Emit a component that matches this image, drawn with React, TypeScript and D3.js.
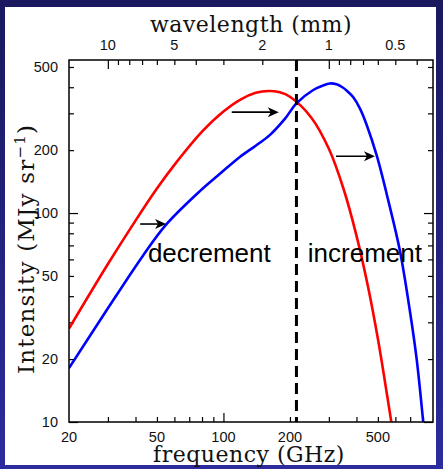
import React, { useRef, useEffect } from 'react';
import * as d3 from 'd3';

const W = 443;
const H = 469;

// undistorted CMB spectrum (red)
const cmbFreq = [20, 30, 40, 50, 60, 80, 100, 120, 140, 160, 180, 200, 250, 300, 350, 400, 450, 500, 550, 575, 600];
const cmbIntensity = [28, 57, 92, 131, 170, 245, 306, 350, 376, 384, 378, 360, 286, 203, 130, 78, 45, 25, 13.5, 10, 7.3];

// SZ distorted spectrum (blue)
const szFreq = [20, 30, 43, 55, 78, 97, 119, 140, 162, 190, 214, 255, 280, 303, 325, 344, 365, 387, 415, 445, 495, 557, 629, 698, 749, 802, 830];
const szIntensity = [18.1, 35, 62, 88, 127, 155, 186, 210, 236, 283, 335, 388, 406, 417, 413, 401, 382, 358, 316, 264, 187, 115, 66, 34, 20, 10, 6.8];

// tick labels
const freqLabels = [20, 50, 100, 200, 500];
const wavelengthLabels = [10, 5, 2, 1, 0.5];
const intensityLabels = [10, 20, 50, 100, 200, 500];

// tick marks
const freqMajor = [100];
const freqMinor = [30, 40, 50, 60, 70, 80, 90, 200, 300, 400, 500, 600, 700, 800];
const wavelengthMajor = [10, 1];
const wavelengthMinor = [9, 8, 7, 6, 5, 4, 3, 2, 0.9, 0.8, 0.7, 0.6, 0.5, 0.4];
const intensityMajor = [10, 100];
const intensityMinor = [20, 30, 40, 50, 60, 70, 80, 90, 200, 300, 400, 500];

// annotations (GHz, MJy/sr)
const nullFreq = 214;
const arrowFromFreq = [42, 109, 323];
const arrowToFreq = [55, 178, 485];
const arrowIntensity = [88.6, 304, 187];
const regionLabels = ['decrement', 'increment'];
const regionLabelFreq = [45.5, 241];
const regionLabelIntensity = 58;

const C_MM_GHZ = 299.79;

const SZChart: React.FC = () => {
  const svgRef = useRef<SVGSVGElement>(null);

  useEffect(() => {
    if (!svgRef.current) return;
    const svg = d3.select(svgRef.current);
    svg.selectAll('*').remove();

    const margins = { top: 60, bottom: 47, left: 69, right: 10 };
    const x0 = margins.left;
    const x1 = W - margins.right;
    const y0 = margins.top;
    const y1 = H - margins.bottom;

    const xScale = d3.scaleLog().domain([20, 888]).range([x0, x1]);
    const lamScale = d3.scaleLog().domain([C_MM_GHZ / 20, C_MM_GHZ / 888]).range([x0, x1]);
    const yScale = d3.scaleLog().domain([10, 540]).range([y1, y0]);

    // background
    const defs = svg.append('defs');
    const grad = defs.append('linearGradient')
      .attr('id', 'bg')
      .attr('x1', 0).attr('y1', 0).attr('x2', 0).attr('y2', 1);
    grad.append('stop').attr('offset', '0%').attr('stop-color', '#1a185e');
    grad.append('stop').attr('offset', '100%').attr('stop-color', '#2c2c9e');
    defs.append('clipPath').attr('id', 'plot-clip')
      .append('rect')
      .attr('x', x0).attr('y', y0)
      .attr('width', x1 - x0).attr('height', y1 - y0);

    svg.append('rect').attr('width', W).attr('height', H).attr('fill', 'url(#bg)');
    svg.append('rect')
      .attr('x', 5).attr('y', 7)
      .attr('width', 431).attr('height', 458)
      .attr('fill', '#ffffff');

    // ticks, all pointing inwards
    const tickGroup = svg.append('g');
    const addTicks = (axis: any, tx: number, ty: number) => {
      const g = tickGroup.append('g').attr('transform', `translate(${tx},${ty})`).call(axis);
      g.select('.domain').remove();
      g.selectAll('line').attr('stroke', '#000').attr('stroke-width', 1.2);
      g.selectAll('text').remove();
    };
    const blank = () => '';
    addTicks(d3.axisBottom(xScale).tickValues(freqMinor).tickSize(-5).tickFormat(blank), 0, y1);
    addTicks(d3.axisBottom(xScale).tickValues(freqMajor).tickSize(-9).tickFormat(blank), 0, y1);
    addTicks(d3.axisTop(lamScale).tickValues(wavelengthMinor).tickSize(-5).tickFormat(blank), 0, y0);
    addTicks(d3.axisTop(lamScale).tickValues(wavelengthMajor).tickSize(-9).tickFormat(blank), 0, y0);
    addTicks(d3.axisLeft(yScale).tickValues(intensityMinor).tickSize(-5).tickFormat(blank), x0, 0);
    addTicks(d3.axisLeft(yScale).tickValues(intensityMajor).tickSize(-9).tickFormat(blank), x0, 0);
    addTicks(d3.axisRight(yScale).tickValues(intensityMinor).tickSize(-5).tickFormat(blank), x1, 0);
    addTicks(d3.axisRight(yScale).tickValues(intensityMajor).tickSize(-9).tickFormat(blank), x1, 0);

    // tick labels
    const labelFont = '"Liberation Sans", Arial, sans-serif';
    svg.append('g').selectAll('text')
      .data(freqLabels)
      .join('text')
      .attr('x', d => xScale(d))
      .attr('y', y1 + 20)
      .attr('text-anchor', 'middle')
      .attr('font-family', labelFont)
      .attr('font-size', 14.5)
      .attr('fill', '#111')
      .text(d => d);
    svg.append('g').selectAll('text')
      .data(wavelengthLabels)
      .join('text')
      .attr('x', d => lamScale(d))
      .attr('y', y0 - 10)
      .attr('text-anchor', 'middle')
      .attr('font-family', labelFont)
      .attr('font-size', 14.5)
      .attr('fill', '#111')
      .text(d => d);
    svg.append('g').selectAll('text')
      .data(intensityLabels)
      .join('text')
      .attr('x', x0 - 11)
      .attr('y', d => yScale(d) + 5)
      .attr('text-anchor', 'end')
      .attr('font-family', labelFont)
      .attr('font-size', 14.5)
      .attr('fill', '#111')
      .text(d => d);

    // axis titles
    const titleFont = '"DejaVu Serif", serif';
    svg.append('text')
      .attr('x', (x0 + x1) / 2 - 2)
      .attr('y', y1 + 40)
      .attr('text-anchor', 'middle')
      .attr('font-family', titleFont)
      .attr('font-size', 22)
      .attr('letter-spacing', 0.5)
      .attr('fill', '#111')
      .text('frequency (GHz)');
    svg.append('text')
      .attr('x', (x0 + x1) / 2)
      .attr('y', 32)
      .attr('text-anchor', 'middle')
      .attr('font-family', titleFont)
      .attr('font-size', 22)
      .attr('letter-spacing', 0.5)
      .attr('fill', '#111')
      .text('wavelength (mm)');
    const yTitle = svg.append('text')
      .attr('transform', `translate(34, ${(y0 + y1) / 2 + 8}) rotate(-90)`)
      .attr('text-anchor', 'middle')
      .attr('font-family', titleFont)
      .attr('font-size', 23)
      .attr('letter-spacing', 1.2)
      .attr('fill', '#111');
    yTitle.append('tspan').text('Intensity (MJy sr');
    yTitle.append('tspan').attr('dy', -9).attr('font-size', 15).text('\u22121');
    yTitle.append('tspan').attr('dy', 9).text(')');

    // curves
    const line = d3.line<[number, number]>()
      .x(d => xScale(d[0]))
      .y(d => yScale(d[1]))
      .curve(d3.curveCatmullRom.alpha(0.5));
    const curves = svg.append('g').attr('clip-path', 'url(#plot-clip)');
    curves.append('path')
      .datum(cmbFreq.map((f, i) => [f, cmbIntensity[i]] as [number, number]))
      .attr('fill', 'none')
      .attr('stroke', '#ff0000')
      .attr('stroke-width', 2.6)
      .attr('d', line);
    curves.append('path')
      .datum(szFreq.map((f, i) => [f, szIntensity[i]] as [number, number]))
      .attr('fill', 'none')
      .attr('stroke', '#0000ff')
      .attr('stroke-width', 2.6)
      .attr('d', line);

    // null frequency
    svg.append('line')
      .attr('x1', xScale(nullFreq)).attr('x2', xScale(nullFreq))
      .attr('y1', y0).attr('y2', y1)
      .attr('stroke', '#000')
      .attr('stroke-width', 3)
      .attr('stroke-dasharray', '11,6');

    // arrows
    arrowFromFreq.forEach((f, i) => {
      const ax = xScale(f);
      const bx = xScale(arrowToFreq[i]);
      const ay = yScale(arrowIntensity[i]);
      svg.append('line')
        .attr('x1', ax).attr('x2', bx - 6)
        .attr('y1', ay).attr('y2', ay)
        .attr('stroke', '#000')
        .attr('stroke-width', 1.6);
      svg.append('path')
        .attr('d', `M${bx},${ay} L${bx - 11},${ay - 5} L${bx - 8},${ay} L${bx - 11},${ay + 5} Z`)
        .attr('fill', '#000');
    });

    // region labels
    svg.append('g').selectAll('text')
      .data(regionLabels)
      .join('text')
      .attr('x', (_, i) => xScale(regionLabelFreq[i]))
      .attr('y', yScale(regionLabelIntensity))
      .attr('font-family', labelFont)
      .attr('font-size', 26)
      .attr('fill', '#000')
      .text(d => d);

    // frame
    svg.append('rect')
      .attr('x', x0).attr('y', y0)
      .attr('width', x1 - x0).attr('height', y1 - y0)
      .attr('fill', 'none')
      .attr('stroke', '#000')
      .attr('stroke-width', 1.5);
  }, []);

  return (
    <svg
      ref={svgRef}
      width={W}
      height={H}
      style={{ position: 'absolute', left: 0, top: 0, display: 'block' }}
    />
  );
};

export default function App() {
  return <SZChart />;
}
